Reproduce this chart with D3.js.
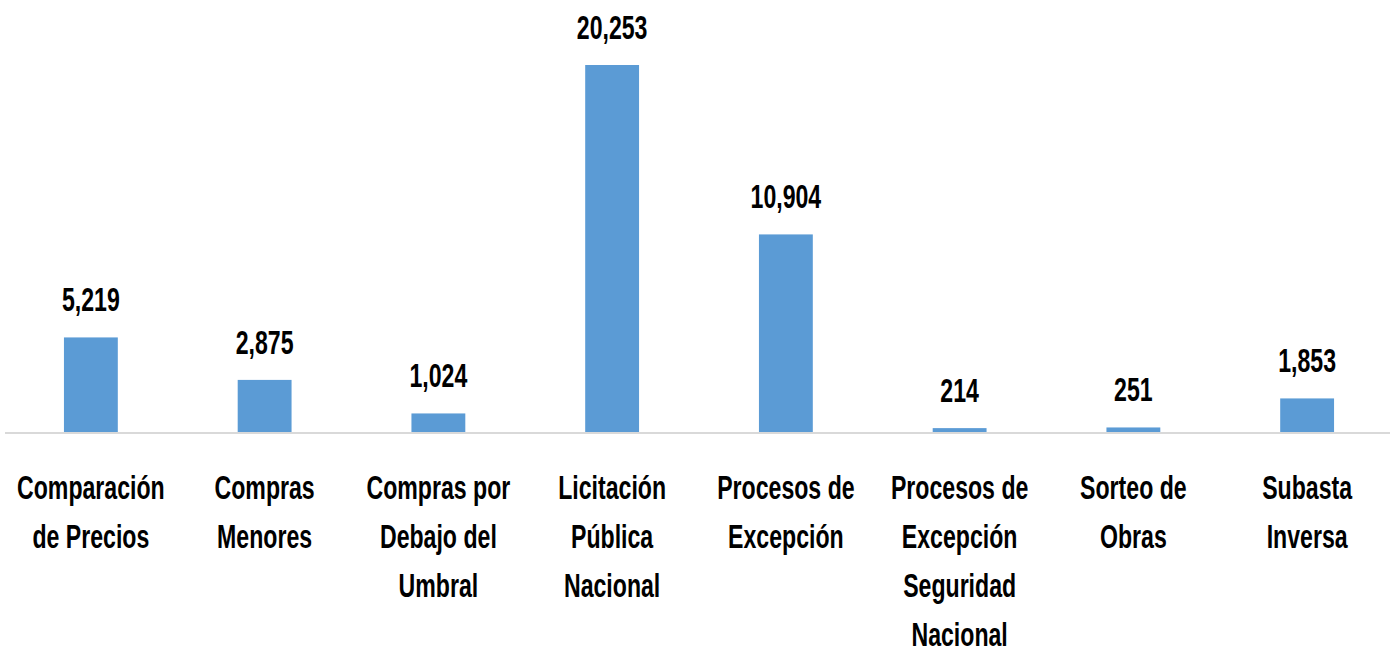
<!DOCTYPE html>
<html>
<head>
<meta charset="utf-8">
<script src="https://cdn.jsdelivr.net/npm/d3@7"></script>
<style>
  body { margin: 0; background: #fff; }
  svg text { font-family: "Liberation Sans", Arial, sans-serif; font-weight: bold; fill: #000; }
</style>
</head>
<body>
<div id="chart"></div>
<script>
// categories (line breaks as in the picture) and values
const categories = [
  "Comparación\nde Precios",
  "Compras\nMenores",
  "Compras por\nDebajo del\nUmbral",
  "Licitación\nPública\nNacional",
  "Procesos de\nExcepción",
  "Procesos de\nExcepción\nSeguridad\nNacional",
  "Sorteo de\nObras",
  "Subasta\nInversa"
];
const values = [5219, 2875, 1024, 20253, 10904, 214, 251, 1853];

const width = 1390, height = 652;
const baseline = 432;
const fontSize = 34, squeeze = 0.68;

const svg = d3.select("#chart")
  .append("svg")
  .attr("width", width)
  .attr("height", height);

const xScale = d3.scaleBand()
  .domain(categories)
  .range([4, 1394])
  .paddingInner(0.69)
  .paddingOuter(0.345);

const yScale = d3.scaleLinear()
  .domain([0, d3.max(values)])
  .range([baseline, 65]);

const fmt = d3.format(",");

// bars
svg.selectAll("rect.bar")
  .data(values)
  .join("rect")
  .attr("class", "bar")
  .attr("x", (d, i) => xScale(categories[i]))
  .attr("y", d => yScale(d))
  .attr("width", xScale.bandwidth())
  .attr("height", d => baseline - yScale(d))
  .attr("fill", "#5b9bd5");

// axis line
svg.append("line")
  .attr("x1", 5).attr("x2", width)
  .attr("y1", baseline + 1).attr("y2", baseline + 1)
  .attr("stroke", "#d9d9d9")
  .attr("stroke-width", 2);

// value labels
svg.selectAll("text.val")
  .data(values)
  .join("text")
  .attr("class", "val")
  .attr("transform", (d, i) =>
    `translate(${xScale(categories[i]) + xScale.bandwidth() / 2},${yScale(d) - 26}) scale(${squeeze},1)`)
  .attr("text-anchor", "middle")
  .attr("font-size", fontSize)
  .text(d => fmt(d));

// category labels
const cat = svg.selectAll("text.cat")
  .data(categories)
  .join("text")
  .attr("class", "cat")
  .attr("transform", d =>
    `translate(${xScale(d) + xScale.bandwidth() / 2},${baseline + 67}) scale(${squeeze},1)`)
  .attr("text-anchor", "middle")
  .attr("font-size", fontSize);

cat.each(function(d) {
  d3.select(this).selectAll("tspan")
    .data(d.split("\n"))
    .join("tspan")
    .attr("x", 0)
    .attr("y", (t, j) => j * 49)
    .text(t => t);
});
</script>
</body>
</html>
